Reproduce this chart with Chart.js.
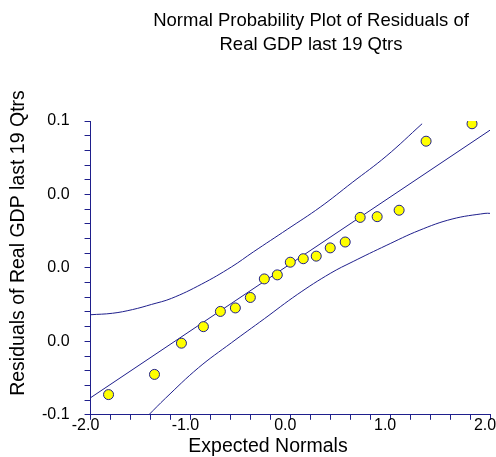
<!DOCTYPE html>
<html>
<head>
<meta charset="utf-8">
<script src="https://cdn.jsdelivr.net/npm/chart.js@4.4.1/dist/chart.umd.min.js"></script>
<style>
  html, body { margin: 0; padding: 0; background: #fff; }
  #wrap { width: 496px; height: 457px; }
</style>
</head>
<body>
<div id="wrap"><canvas id="normChart"></canvas></div>
<script>
// Residuals vs expected normal scores (19 quarters)
let expectedNormals = [-1.82, -1.36, -1.09, -0.87, -0.70, -0.55, -0.40, -0.26, -0.13, 0,
  0.13, 0.26, 0.40, 0.55, 0.70, 0.87, 1.09, 1.36, 1.82];
let residuals = [-0.069, -0.058, -0.041, -0.032, -0.0237, -0.0218, -0.0161, -0.0060, -0.0038, 0.0031,
  0.0050, 0.0064, 0.0109, 0.0141, 0.0275, 0.0279, 0.0314, 0.0690, 0.0785];

// fitted line
let fitX = [-2, 2];
let fitY = [-0.0707, 0.0750];

// confidence bands
let upperX = [-2.0, -1.78, -1.58, -1.39, -1.19, -0.89, -0.59, -0.37, -0.03, 0.30, 0.62, 0.96, 1.32];
let upperY = [-0.0255, -0.0247, -0.0227, -0.0199, -0.0166, -0.0089, 0.0005, 0.0087, 0.0210, 0.0331, 0.0465, 0.0608, 0.0785];
let lowerX = [-1.42, -1.25, -0.92, -0.59, -0.26, 0.07, 0.40, 0.63, 0.96, 1.29, 1.62, 1.95, 2.0];
let lowerY = [-0.0802, -0.0710, -0.0544, -0.0408, -0.0277, -0.0145, -0.0030, 0.0035, 0.0122, 0.0204, 0.0266, 0.0297, 0.0297];

let xTickLabels = ["-2.0", "-1.0", "0.0", "1.0", "2.0"];
let yTickLabels = ["-0.1", "0.0", "0.0", "0.0", "0.1"];
let titleLines = ["Normal Probability Plot of Residuals of", "Real GDP last 19 Qtrs"];
let xAxisTitle = "Expected Normals";
let yAxisTitle = "Residuals of Real GDP last 19 Qtrs";

let navy = "#1f1f8c";
let fontFamily = '"Liberation Sans", Arial, sans-serif';

function toPoints(xs, ys) {
  return xs.map((x, i) => ({ x: x, y: ys[i] }));
}

function lineSet(xs, ys, smooth) {
  return {
    data: toPoints(xs, ys),
    showLine: true,
    borderColor: navy,
    borderWidth: 1,
    pointRadius: 0,
    tension: smooth ? 0.4 : 0,
    order: 1,
  };
}

// heading and axis titles (placed like the original, not centred on the plot)
let textPlugin = {
  id: "texts",
  afterDraw(chart) {
    let ctx = chart.ctx;
    ctx.save();
    ctx.fillStyle = "#000";
    ctx.textAlign = "center";
    ctx.textBaseline = "middle";
    ctx.font = "18.5px " + fontFamily;
    titleLines.forEach((t, i) => ctx.fillText(t, 311, 21 + i * 24));
    ctx.font = "19.5px " + fontFamily;
    ctx.fillText(xAxisTitle, 268, 447);
    ctx.translate(19, 243);
    ctx.rotate(-Math.PI / 2);
    ctx.fillText(yAxisTitle, 0, 0);
    ctx.restore();
  },
};

let ctx = document.getElementById("normChart").getContext("2d");
let normChart = new Chart(ctx, {
  type: "scatter",
  data: {
    datasets: [
      {
        data: toPoints(expectedNormals, residuals),
        backgroundColor: "#ffff00",
        borderColor: navy,
        borderWidth: 1,
        pointRadius: 5,
        order: 0,
      },
      lineSet(fitX, fitY, false),
      lineSet(upperX, upperY, true),
      lineSet(lowerX, lowerY, true),
    ],
  },
  options: {
    responsive: true,
    maintainAspectRatio: false,
    animation: false,
    layout: { padding: { top: 121, left: 27, right: 4, bottom: 26 } },
    plugins: {
      legend: { display: false },
      tooltip: { enabled: false },
    },
    scales: {
      x: {
        type: "linear",
        min: -2,
        max: 2,
        border: { color: navy, width: 1 },
        grid: { drawOnChartArea: false, color: navy, tickLength: 5 },
        ticks: {
          stepSize: 0.2,
          autoSkip: false,
          maxRotation: 0,
          color: "#000",
          padding: -4,
          labelOffset: -5,
          font: { family: fontFamily, size: 16 },
          callback: (v, i) => (i % 5 === 0 ? xTickLabels[i / 5] : ""),
        },
        afterFit: (scale) => {
          scale.paddingRight = 0;
        },
      },
      y: {
        type: "linear",
        min: -0.08,
        max: 0.08,
        border: { color: navy, width: 1 },
        grid: { drawOnChartArea: false, color: navy, tickLength: 6 },
        ticks: {
          stepSize: 0.008,
          autoSkip: false,
          color: "#000",
          padding: 15,
          font: { family: fontFamily, size: 16 },
          callback: (v, i) => (i % 5 === 0 ? yTickLabels[i / 5] : ""),
        },
      },
    },
  },
  plugins: [textPlugin],
});
</script>
</body>
</html>
